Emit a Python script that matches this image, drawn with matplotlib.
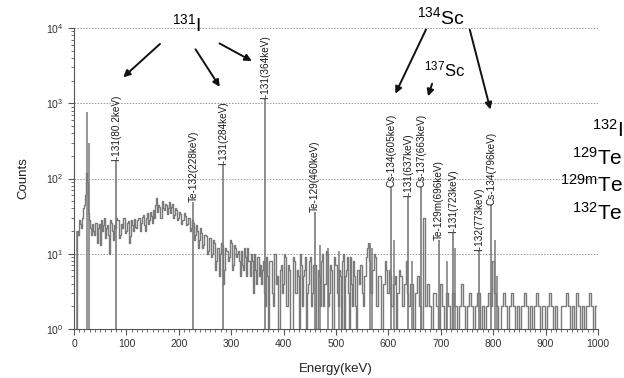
import numpy as np
import matplotlib
matplotlib.use("Agg")
import matplotlib.pyplot as plt
from matplotlib.ticker import MultipleLocator, LogLocator

plt.rcParams['font.family'] = ['Liberation Sans', 'DejaVu Sans']
plt.rcParams['mathtext.fontset'] = 'custom'
plt.rcParams['mathtext.rm'] = 'Liberation Sans'
plt.rcParams['mathtext.it'] = 'Liberation Sans'

# continuum counts, 2 keV channels from 0 to 638 keV
counts_lo = [
    0, 0, 0, 20, 18, 28, 25, 22, 30, 40, 45, 60, 120, 90, 35, 28, 22, 18, 25, 20,
    18, 26, 14, 22, 25, 13, 28, 20, 24, 30, 16, 22, 24, 18, 10, 28, 26, 20, 15, 24,
    22, 30, 28, 16, 18, 25, 22, 30, 30, 19, 20, 26, 27, 14, 17, 28, 24, 20, 29, 23,
    22, 28, 30, 20, 26, 31, 33, 24, 20, 30, 35, 25, 28, 36, 32, 26, 38, 30, 45, 55,
    36, 44, 42, 30, 50, 40, 38, 46, 44, 34, 40, 48, 35, 42, 46, 30, 33, 40, 38, 28,
    30, 36, 34, 25, 28, 35, 32, 24, 25, 30, 30, 20, 22, 28, 26, 15, 18, 24, 20, 12,
    15, 22, 19, 12, 13, 18, 17, 10, 11, 16, 16, 9, 10, 15, 14, 6, 8, 12, 12, 5,
    10, 14, 13, 4, 6, 12, 11, 8, 9, 15, 14, 6, 7, 13, 12, 9, 10, 11, 8, 5,
    11, 7, 6, 12, 9, 5, 12, 8, 5, 10, 8, 3, 10, 6, 4, 9, 9, 5, 7, 4,
    6, 8, 3, 2, 9, 5, 1, 8, 8, 3, 2, 10, 10, 4, 5, 0, 1, 6, 7, 3,
    4, 10, 9, 2, 2, 7, 6, 0, 0, 9, 8, 3, 3, 6, 5, 1, 10, 7, 2, 5,
    6, 9, 0, 3, 4, 8, 9, 2, 3, 7, 7, 0, 1, 6, 5, 2, 8, 10, 2, 4,
    4, 11, 10, 2, 3, 7, 6, 0, 0, 9, 7, 3, 2, 6, 5, 1, 8, 10, 1, 5,
    6, 9, 3, 1, 9, 4, 2, 8, 5, 2, 0, 6, 4, 7, 7, 3, 2, 5, 5, 9,
    12, 14, 8, 3, 3, 6, 6, 10, 9, 2, 2, 5, 5, 0, 0, 4, 4, 8, 6, 3,
    3, 6, 5, 2, 2, 4, 4, 5, 0, 3, 3, 6, 5, 2, 2, 4, 4, 8, 3, 2,
]
# continuum counts, 4 keV channels from 640 to 996 keV
counts_hi = [
    2, 4, 1, 3, 5, 2, 0, 30, 2, 4,
    2, 0, 3, 2, 1, 4, 2, 0, 3, 2,
    1, 3, 2, 0, 2, 4, 2, 1, 2, 3,
    2, 0, 2, 3, 1, 2, 0, 2, 3, 2,
    8, 3, 2, 0, 2, 3, 2, 1, 2, 3,
    2, 0, 2, 1, 2, 3, 2, 0, 2, 1,
    2, 3, 2, 0, 2, 1, 2, 3, 2, 0,
    2, 1, 0, 2, 2, 3, 2, 0, 2, 1,
    3, 2, 0, 2, 1, 2, 3, 2, 0, 2,
]
energy_lo = np.arange(len(counts_lo)) * 2
energy_hi = 640 + np.arange(len(counts_hi)) * 4

# unlabelled sharp lines
minor_e = [6, 25, 29, 470, 485, 505, 565, 568, 610, 645, 712, 728, 803, 808]
minor_h = [20, 760, 300, 13, 12, 11, 14, 12, 15, 8, 8, 12, 15, 5]

# labelled peaks
peak_e = [80.2, 228, 284, 364, 460, 605, 637, 663, 696, 723, 773, 796]
peak_h = [170, 48, 150, 1130, 36, 76, 56, 78, 15, 19, 11, 45]
peak_lbl = ['I-131(80.2keV)', 'Te-132(228keV)', 'I-131(284keV)', 'I-131(364keV)',
            'Te-129(460keV)', 'Cs-134(605keV)', 'I-131(637keV)', 'Cs-137(663keV)',
            'Te-129m(696keV)', 'I-131(723keV)', 'I-132(773keV)', 'Cs-134(796keV)']

right_lbl = [r'$^{132}$I', r'$^{129}$Te', r'$^{129m}$Te', r'$^{132}$Te']

fig = plt.figure(figsize=(6.24, 3.78), dpi=100)
ax = fig.add_axes([74/624, 49/378, 524/624, 301/378])

col = '#7a7a7a'
ax.plot(energy_lo, counts_lo, drawstyle='steps-mid', color=col, lw=1.0)
ax.plot(energy_hi, counts_hi, drawstyle='steps-mid', color=col, lw=1.0)
ax.vlines(minor_e, 1, minor_h, color=col, lw=1.1)
ax.vlines(peak_e, 1, peak_h, color=col, lw=1.2)

ax.set_yscale('log')
ax.set_xlim(0, 1000)
ax.set_ylim(1, 1e4)
ax.xaxis.set_major_locator(MultipleLocator(100))
ax.xaxis.set_minor_locator(MultipleLocator(10))
ax.yaxis.set_minor_locator(LogLocator(subs=np.arange(2, 10), numticks=20))
ax.yaxis.grid(True, which='major', ls=(0, (1.5, 1.5)), color='#999999', lw=0.7)
ax.set_axisbelow(True)
for s in ['top', 'right']:
    ax.spines[s].set_visible(False)
for s in ['left', 'bottom']:
    ax.spines[s].set_color('#555555')
ax.tick_params(which='both', colors='#555555', labelsize=7.5, labelcolor='#333333')
ax.tick_params(which='major', length=4)
ax.tick_params(which='minor', length=2.5)
ax.set_xlabel('Energy(keV)', fontsize=9.5, color='#222222', labelpad=10)
ax.set_ylabel('Counts', fontsize=9.5, color='#222222', labelpad=12)

for e, h, t in zip(peak_e, peak_h, peak_lbl):
    ax.text(e, h, t, rotation=90, ha='center', va='bottom', fontsize=7.2, color='#1a1a1a')

arw = dict(arrowstyle='-|>', color='#111111', lw=1.4, mutation_scale=10)
ax.text(214, 11200, r'$^{131}$I', ha='center', va='center', fontsize=14, clip_on=False)
ax.annotate('', xy=(90, 2090), xytext=(168, 6500), arrowprops=arw, annotation_clip=False)
ax.annotate('', xy=(281, 1540), xytext=(229, 5600), arrowprops=arw, annotation_clip=False)
ax.annotate('', xy=(344, 3500), xytext=(273, 6500), arrowprops=arw, annotation_clip=False)

ax.text(700, 14000, r'$^{134}$Sc', ha='center', va='center', fontsize=14, clip_on=False)
ax.annotate('', xy=(611, 1240), xytext=(674, 10300), arrowprops=arw, annotation_clip=False)
ax.annotate('', xy=(796, 760), xytext=(754, 10300), arrowprops=arw, annotation_clip=False)
ax.text(708, 2840, r'$^{137}$Sc', ha='center', va='center', fontsize=12, clip_on=False)
ax.annotate('', xy=(674, 1140), xytext=(685, 1970), arrowprops=arw, annotation_clip=False)

for i, t in enumerate(right_lbl):
    fig.text(623/624, 1 - (130 + 27.5*i)/378, t, ha='right', va='center', fontsize=15)

fig.savefig('out.png', dpi=100)
